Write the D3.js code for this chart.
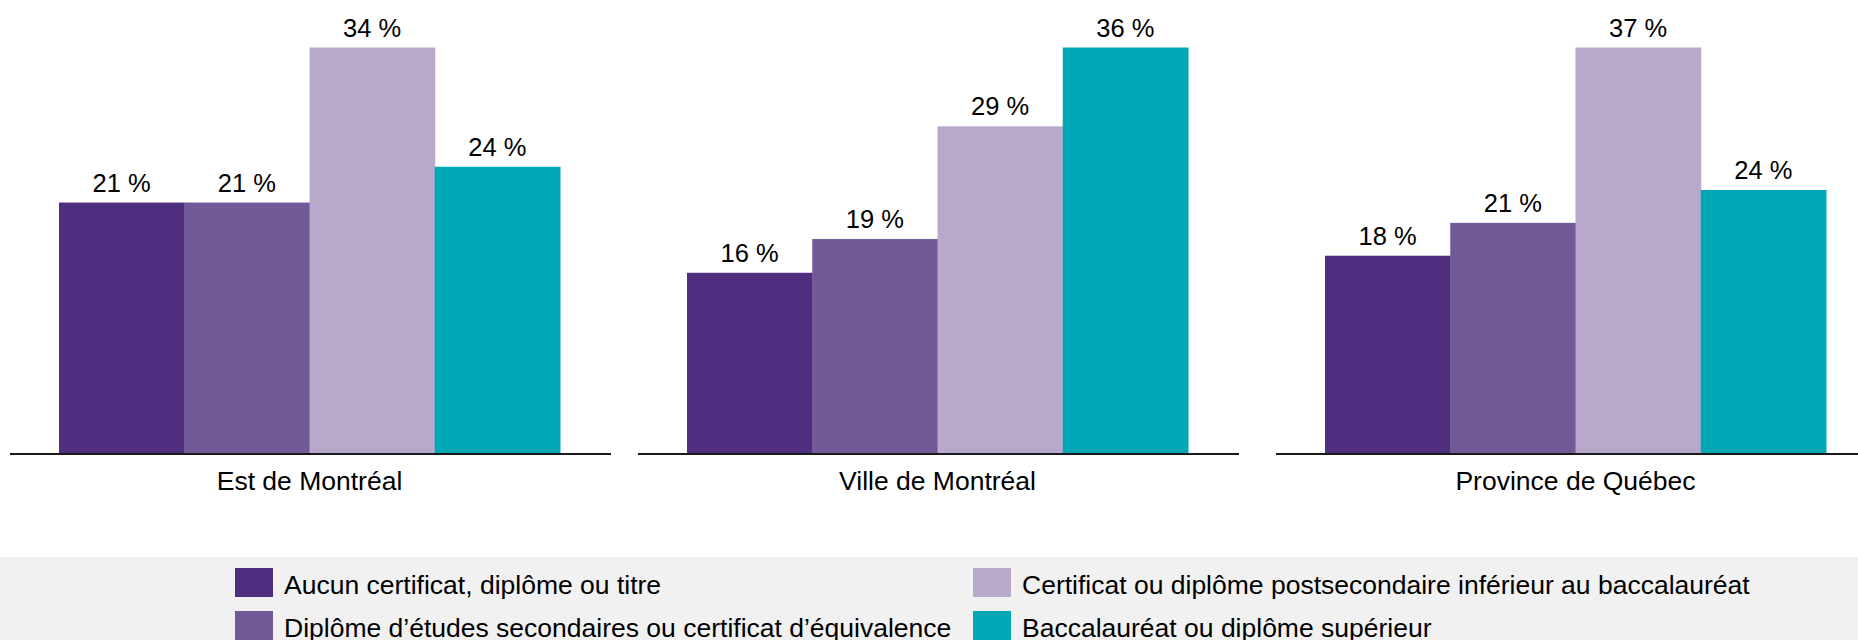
<!DOCTYPE html>
<html>
<head>
<meta charset="utf-8">
<script src="https://cdn.jsdelivr.net/npm/d3@7"></script>
<style>
  html, body { margin: 0; padding: 0; background: #fff; }
  svg { display: block; font-family: "Liberation Sans", Arial, sans-serif; }
</style>
</head>
<body>
<div id="chart"></div>
<script>
// Données
const regions = ['Est de Montréal', 'Ville de Montréal', 'Province de Québec'];
const levels = [
    'Aucun certificat, diplôme ou titre',
    'Diplôme d’études secondaires ou certificat d’équivalence',
    'Certificat ou diplôme postsecondaire inférieur au baccalauréat',
    'Baccalauréat ou diplôme supérieur'
];
const estMontreal = [21, 21, 34, 24];
const villeMontreal = [16, 19, 29, 36];
const provinceQuebec = [18, 21, 37, 24];
const seriesByRegion = [estMontreal, villeMontreal, provinceQuebec];
const colors = ['#4f2d7f', '#725997', '#b8a9cb', '#00a8b5'];

const width = 1858, height = 640;
const baseline = 453, plotTop = 47.5;
const panelLeft = [10, 638, 1276];
const panelWidth = 601;
const barInset = 49, groupWidth = 501;

const svg = d3.select('#chart').append('svg')
    .attr('width', width)
    .attr('height', height);

const color = d3.scaleOrdinal().domain(levels).range(colors);

regions.forEach((region, i) => {
    const values = seriesByRegion[i];
    const g = svg.append('g').attr('transform', `translate(${panelLeft[i]},0)`);

    const x = d3.scaleBand()
        .domain(levels)
        .range([barInset, barInset + groupWidth])
        .paddingInner(0);

    // chaque panneau a sa propre échelle (max en haut)
    const y = d3.scaleLinear()
        .domain([0, d3.max(values)])
        .range([baseline, plotTop]);

    const data = levels.map((l, j) => ({ level: l, value: values[j] }));

    g.selectAll('.bar')
        .data(data)
        .enter().append('rect')
        .attr('class', 'bar')
        .attr('x', d => x(d.level))
        .attr('width', x.bandwidth() + 0.5)
        .attr('y', d => y(d.value))
        .attr('height', d => baseline - y(d.value))
        .attr('fill', d => color(d.level));

    g.selectAll('.value')
        .data(data)
        .enter().append('text')
        .attr('class', 'value')
        .attr('x', d => x(d.level) + x.bandwidth() / 2)
        .attr('y', d => y(d.value) - 11)
        .attr('text-anchor', 'middle')
        .attr('font-size', 25.5)
        .attr('fill', '#000')
        .text(d => `${d.value} %`);

    // axe
    g.append('line')
        .attr('x1', 0)
        .attr('x2', panelWidth)
        .attr('y1', baseline + 1)
        .attr('y2', baseline + 1)
        .attr('stroke', '#1a1a1a')
        .attr('stroke-width', 2);

    g.append('text')
        .attr('x', barInset + groupWidth / 2)
        .attr('y', 490)
        .attr('text-anchor', 'middle')
        .attr('font-size', 26.5)
        .attr('fill', '#000')
        .text(region);
});

// Légende
svg.append('rect')
    .attr('x', 0)
    .attr('y', 557)
    .attr('width', width)
    .attr('height', height - 557)
    .attr('fill', '#f1f1f1');

const legendCols = [235, 973];
const legendRows = [568, 611];
const legend = svg.append('g')
    .selectAll('g')
    .data(levels)
    .enter().append('g')
    .attr('transform', (d, i) => `translate(${legendCols[Math.floor(i / 2)]},${legendRows[i % 2]})`);

legend.append('rect')
    .attr('width', 38)
    .attr('height', 29)
    .attr('fill', d => color(d));

legend.append('text')
    .attr('x', 49)
    .attr('y', 26)
    .attr('font-size', 26.5)
    .attr('fill', '#000')
    .text(d => d);
</script>
</body>
</html>
